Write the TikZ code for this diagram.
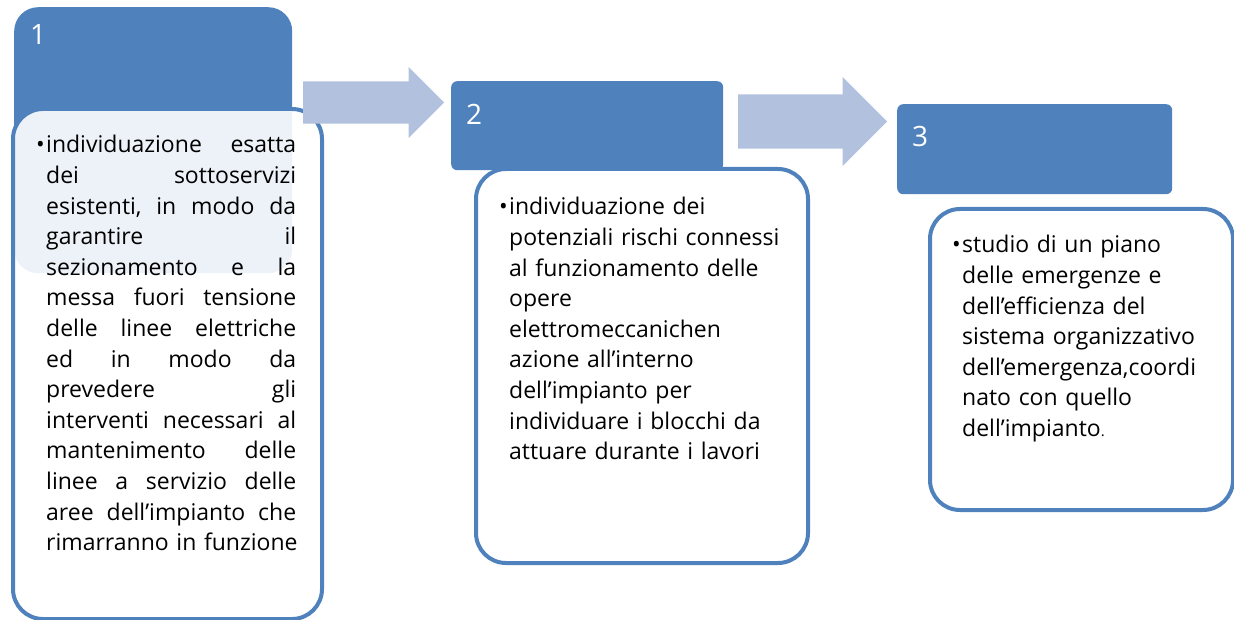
\documentclass[tikz,border=0pt]{standalone}
\usepackage{fontspec}
\setmainfont{Open Sans}
\usetikzlibrary{shapes.arrows}
\definecolor{headblue}{RGB}{79,129,189}
\definecolor{arrowblue}{RGB}{178,193,222}
\newcommand{\jline}[1]{\leavevmode\hbox to 250pt{#1}\\}
\begin{document}
\begin{tikzpicture}[x=1pt,y=-1pt,
        header/.style={fill=headblue, draw=none, anchor=north west, inner sep=0pt},
        textbox/.style={draw=headblue, line width=4pt, fill=white, rounded corners=30pt, anchor=north west, inner sep=0pt},
        bodytext/.style={anchor=base west, inner sep=0pt, align=left, font=\fontsize{23}{30.6}\selectfont},
        num/.style={anchor=base west, inner sep=0pt, text=white, font=\fontsize{28}{30}\selectfont},
        bulletmark/.style={anchor=base east, inner sep=0pt, font=\fontsize{23}{30.6}\selectfont},
        flow/.style={single arrow, fill=arrowblue, draw=none, anchor=west, inner xsep=0pt, single arrow tip angle=90}]
        \useasboundingbox (0,0) rectangle (1234,620);

        \node[header, rounded corners=24pt, minimum width=278pt, minimum height=266pt] (head1) at (14,7) {};
        \node[textbox, fill opacity=0.9, minimum width=309pt, minimum height=510pt] (box1) at (11,107) {};
        \node[flow, inner ysep=21pt, minimum height=141pt, single arrow head extend=14.5pt] (arr1) at (303,102.5) {};

        \node[header, rounded corners=6pt, minimum width=272pt, minimum height=89pt] (head2) at (451,81) {};
        \node[textbox, minimum width=332pt, minimum height=394pt] (box2) at (474,167) {};
        \node[flow, inner ysep=27pt, minimum height=149pt, single arrow head extend=17.5pt] (arr2) at (738,121.5) {};

        \node[header, rounded corners=6pt, minimum width=275pt, minimum height=90pt] (head3) at (897,104) {};
        \node[textbox, minimum width=303pt, minimum height=301pt] (box3) at (928,207) {};

        \node[num] (num1) at (30,45) {1};
        \node[num] (num2) at (466,125) {2};
        \node[num] (num3) at (912,147) {3};

        \node[bulletmark] (bul1) at (45,153) {\textbullet};
        \node[bulletmark] (bul2) at (508,215) {\textbullet};
        \node[bulletmark] (bul3) at (961,253) {\textbullet};

        \node[bodytext, text width=262pt] (txt1) at (46,153) {%
            \jline{individuazione\hfill esatta}
            \jline{dei\hfill sottoservizi}
            \jline{esistenti,\hfill in\hfill modo\hfill da}
            \jline{garantire\hfill il}
            \jline{sezionamento\hfill e\hfill la}
            \jline{messa\hfill fuori\hfill tensione}
            \jline{delle\hfill linee\hfill elettriche}
            \jline{ed\hfill in\hfill modo\hfill da}
            \jline{prevedere\hfill gli}
            \jline{interventi\hfill necessari\hfill al}
            \jline{mantenimento\hfill delle}
            \jline{linee\hfill a\hfill servizio\hfill delle}
            \jline{aree\hfill dell’impianto\hfill che}
            \mbox{rimarranno in funzione}};
        \node[bodytext, text width=290pt] (txt2) at (509,215) {individuazione dei\\
            potenziali rischi connessi\\
            al funzionamento delle\\
            opere\\
            elettromeccanichen\\
            azione all’interno\\
            dell’impianto per\\
            individuare i blocchi da\\
            attuare durante i lavori};
        \node[bodytext, text width=265pt] (txt3) at (962,253) {studio di un piano\\
            delle emergenze e\\
            dell’efficienza del\\
            sistema organizzativo\\
            dell’emergenza,coordi\\
            nato con quello\\
            dell’impianto{\fontsize{15}{20}\selectfont .}};

    \end{tikzpicture}
\end{document}
